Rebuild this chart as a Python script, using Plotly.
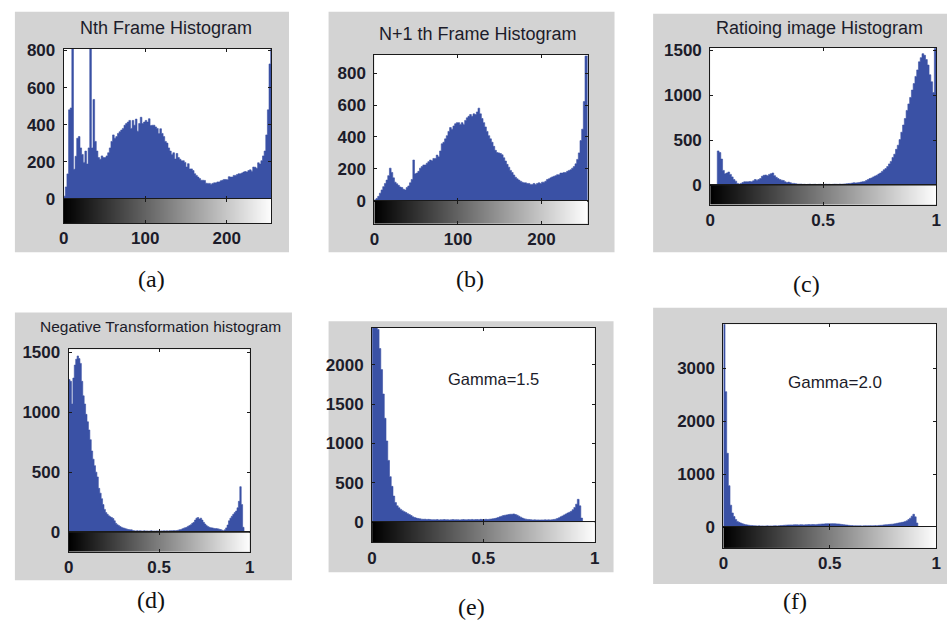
import plotly.graph_objects as go

# ---------------- data ----------------
# (a) Nth frame histogram, 128 bins over 0..256
hist_a = [15, 65, 135, 480, 490, 830, 160, 230, 327, 336,
          275, 240, 197, 258, 188, 275, 830, 275, 536, 310,
          258, 223, 214, 232, 223, 223, 232, 249, 275, 310,
          345, 327, 336, 353, 362, 371, 380, 397, 406, 414,
          423, 380, 423, 397, 430, 365, 406, 440, 406, 414,
          423, 414, 432, 395, 397, 397, 388, 380, 352, 378,
          353, 336, 310, 301, 275, 258, 240, 249, 215, 245,
          223, 214, 206, 206, 197, 172, 190, 162, 162, 153,
          136, 127, 118, 110, 101, 101, 100, 85, 84, 84,
          80, 84, 87, 87, 92, 92, 98, 101, 105, 105,
          104, 120, 118, 118, 127, 127, 132, 136, 136, 140,
          145, 148, 145, 153, 157, 150, 172, 171, 165, 195,
          188, 206, 232, 258, 345, 480, 727, 830]

# (b) N+1 th frame histogram, 128 bins over 0..256
hist_b = [6, 14, 27, 47, 67, 88, 108, 129, 157, 204,
          177, 143, 116, 106, 96, 86, 82, 71, 67, 82,
          92, 112, 133, 255, 169, 173, 184, 204, 214, 224,
          224, 235, 245, 255, 251, 265, 265, 286, 275, 312,
          357, 367, 388, 408, 435, 459, 449, 469, 483, 490,
          490, 479, 490, 479, 504, 520, 530, 541, 530, 545,
          541, 557, 581, 545, 516, 490, 463, 435, 408, 388,
          367, 341, 316, 302, 300, 296, 288, 269, 249, 228,
          210, 190, 177, 161, 147, 137, 129, 122, 116, 112,
          112, 108, 108, 102, 102, 108, 102, 108, 112, 108,
          116, 116, 122, 133, 137, 143, 149, 153, 157, 163,
          163, 173, 173, 177, 177, 184, 190, 194, 204, 214,
          231, 259, 300, 377, 449, 622, 908, 908]

# (c) Ratioing image histogram, 128 bins over 0..1
hist_c = [0, 0, 0, 0, 382, 364, 292, 166, 130, 137,
          148, 122, 94, 65, 47, 22, 14, 22, 32, 40,
          40, 40, 43, 40, 50, 65, 58, 65, 76, 101,
          112, 115, 108, 122, 130, 137, 108, 90, 76, 65,
          58, 54, 40, 32, 36, 29, 22, 22, 18, 14,
          14, 14, 11, 12, 9, 11, 13, 10, 11, 12,
          9, 11, 12, 10, 11, 13, 11, 12, 10, 11,
          13, 12, 11, 14, 12, 14, 16, 18, 20, 22,
          25, 29, 27, 29, 32, 36, 40, 43, 54, 65,
          76, 83, 94, 104, 112, 126, 137, 155, 173, 187,
          209, 238, 266, 310, 346, 400, 446, 508, 590, 670,
          742, 832, 904, 976, 1058, 1130, 1210, 1282, 1372, 1418,
          1462, 1444, 1397, 1336, 1228, 1150, 1030, 1520]

# (d) Negative transformation histogram, 128 bins over 0..1
hist_d = [1272, 1258, 1069, 1285, 1393, 1442, 1469, 1447, 1407, 1258,
          1137, 1069, 983, 921, 853, 772, 678, 610, 556, 502,
          462, 367, 327, 281, 232, 192, 165, 151, 138, 130,
          124, 116, 97, 76, 65, 57, 49, 43, 38, 35,
          30, 27, 24, 22, 22, 16, 14, 13, 15, 12,
          14, 13, 11, 14, 12, 13, 11, 12, 14, 11,
          12, 11, 13, 12, 11, 13, 12, 14, 13, 14,
          13, 14, 15, 14, 16, 15, 16, 19, 22, 24,
          30, 35, 40, 43, 51, 57, 65, 76, 84, 103,
          119, 124, 111, 119, 103, 84, 70, 57, 49, 43,
          40, 38, 35, 32, 32, 30, 27, 24, 19, 14,
          22, 38, 62, 97, 119, 135, 151, 165, 178, 205,
          259, 381, 232, 43, 0, 0, 0, 0]

# (e) Gamma = 1.5 histogram, 128 bins over 0..1
hist_e = [2600, 2550, 2500, 2450, 2207, 1939, 1629, 1320, 1031, 784,
          577, 454, 330, 247, 206, 181, 161, 144, 132, 120,
          107, 95, 82, 66, 58, 50, 45, 41, 37, 35,
          36, 33, 34, 31, 29, 30, 28, 31, 27, 30,
          29, 32, 28, 30, 27, 29, 31, 28, 30, 29,
          27, 30, 32, 29, 28, 31, 30, 33, 29, 31,
          32, 30, 34, 31, 33, 35, 32, 36, 38, 41,
          45, 50, 58, 66, 74, 82, 87, 91, 95, 99,
          99, 103, 95, 87, 74, 62, 50, 41, 37, 33,
          31, 29, 27, 28, 26, 27, 25, 27, 26, 28,
          27, 28, 27, 29, 33, 37, 45, 54, 66, 78,
          91, 103, 115, 124, 136, 157, 186, 227, 289, 206,
          50, 0, 0, 0, 0, 0, 0, 0]

# (f) Gamma = 2.0 histogram, 128 bins over 0..1
hist_f = [3900, 2560, 1394, 780, 411, 264, 196, 141, 104, 86,
          74, 61, 49, 43, 37, 31, 28, 25, 22, 20,
          18, 21, 17, 19, 16, 18, 20, 17, 19, 18,
          20, 22, 19, 23, 25, 27, 30, 33, 35, 37,
          38, 36, 39, 41, 40, 38, 42, 40, 37, 41,
          43, 45, 42, 46, 44, 43, 47, 50, 52, 55,
          55, 58, 60, 61, 59, 62, 61, 58, 56, 55,
          50, 46, 43, 38, 34, 30, 27, 25, 22, 23,
          21, 20, 22, 19, 21, 23, 20, 22, 24, 21,
          23, 25, 24, 28, 30, 31, 37, 40, 43, 46,
          49, 52, 55, 62, 68, 74, 80, 86, 92, 104,
          117, 141, 166, 203, 239, 190, 74, 0, 0, 0,
          0, 0, 0, 0, 0, 0, 0, 0]

titles = ["Nth Frame Histogram", "N+1 th Frame Histogram", "Ratioing image Histogram",
          "Negative Transformation histogram", "Gamma=1.5", "Gamma=2.0"]
captions = ["(a)", "(b)", "(c)", "(d)", "(e)", "(f)"]

xticks_gray = [0, 100, 200]
xticks_gray_text = ["0", "100", "200"]
xticks_unit = [0, 0.5, 1]
xticks_unit_text = ["0", "0.5", "1"]

yticks_a = [0, 200, 400, 600, 800]
yticks_b = [0, 200, 400, 600, 800]
yticks_c = [0, 500, 1000, 1500]
yticks_d = [0, 500, 1000, 1500]
yticks_e = [0, 500, 1000, 1500, 2000]
yticks_f = [0, 1000, 2000, 3000]

# ---------------- layout geometry (pixels) ----------------
W, H = 952, 631
BLUE = "#3a51a5"
GREY = "#d3d3d3"
LINE = "#1a1a1a"
TXT = "#1c1c2a"
TICKFONT = dict(family="Liberation Sans, Arial, sans-serif", size=17, color=TXT, weight="bold")


def px_x(a, b):
    return [a / W, b / W]


def px_y(top, bottom):
    return [1 - bottom / H, 1 - top / H]


panels = [
    dict(vals=hist_a, span=256, xr=255, ymax=810, yt=yticks_a, xt=xticks_gray, xtt=xticks_gray_text,
         box=(10, 5, 287, 252), plot=(59.3, 42.7, 269.3, 197.3), cb=222.0,
         title=(163, 22, 18), cap=(148, 280)),
    dict(vals=hist_b, span=256, xr=255, ymax=915, yt=yticks_b, xt=xticks_gray, xtt=xticks_gray_text,
         box=(327, 5, 616, 252), plot=(373.3, 49.3, 588.7, 199.0), cb=222.7,
         title=(478, 28, 18), cap=(470, 280)),
    dict(vals=hist_c, span=1.0, xr=1.0, ymax=1530, yt=yticks_c, xt=xticks_unit, xtt=xticks_unit_text,
         box=(655, 7, 952, 252), plot=(712.7, 41.7, 941.0, 183.3), cb=203.3,
         title=(823, 22, 18), cap=(810, 285)),
    dict(vals=hist_d, span=1.0, xr=1.0, ymax=1525, yt=yticks_d, xt=xticks_unit, xtt=xticks_unit_text,
         box=(10, 314, 290, 589), plot=(64.3, 351.7, 247.3, 540.0), cb=560.0,
         title=(157, 328, 15.5), cap=(148, 609)),
    dict(vals=hist_e, span=1.0, xr=1.0, ymax=2467, yt=yticks_e, xt=xticks_unit, xtt=xticks_unit_text,
         box=(327, 323, 615, 581), plot=(371.0, 330.0, 596.0, 529.3), cb=550.0,
         title=(494, 382, 16.5), cap=(471, 617)),
    dict(vals=hist_f, span=1.0, xr=1.0, ymax=3837, yt=yticks_f, xt=xticks_unit, xtt=xticks_unit_text,
         box=(655, 309, 952, 593), plot=(726.0, 326.0, 941.0, 534.3), cb=556.0,
         title=(839, 386, 17), cap=(798, 610)),
]

fig = go.Figure()
layout = dict(width=W, height=H, margin=dict(l=0, r=0, t=0, b=0),
              paper_bgcolor="white", plot_bgcolor="rgba(0,0,0,0)",
              showlegend=False, shapes=[], annotations=[])


def axkey(kind, n):
    return kind + ("" if n == 1 else str(n))


def ref(kind, n):
    return kind + ("" if n == 1 else str(n))


for k, p in enumerate(panels):
    nh = 2 * k + 1
    nc = 2 * k + 2
    x0, y0, x1, y1 = p["plot"]
    bx0, by0, bx1, by1 = p["box"]

    # grey figure background and white axes background
    layout["shapes"].append(dict(type="rect", xref="paper", yref="paper", layer="below",
                                 x0=bx0 / W, x1=bx1 / W, y0=1 - by1 / H, y1=1 - by0 / H,
                                 fillcolor=GREY, line=dict(width=0)))
    layout["shapes"].append(dict(type="rect", xref="paper", yref="paper", layer="below",
                                 x0=x0 / W, x1=x1 / W, y0=1 - y1 / H, y1=1 - y0 / H,
                                 fillcolor="white", line=dict(width=0)))

    # histogram drawn as a filled step outline (bin edges -> counts)
    vals = p["vals"]
    n = len(vals)
    w = p["span"] / n
    edges = [i * w for i in range(n + 1)]
    steps = list(vals) + [vals[-1]]
    fig.add_trace(go.Scatter(x=edges, y=steps, mode="lines", line=dict(shape="hv", color=BLUE, width=0.6),
                             fill="tozeroy", fillcolor=BLUE,
                             xaxis=ref("x", nh), yaxis=ref("y", nh), hoverinfo="skip"))

    fig.add_trace(go.Heatmap(z=[[0, 1]], x=[0, p["xr"]], y=[0], zsmooth="best",
                             colorscale=[[0, "black"], [1, "white"]], showscale=False,
                             xaxis=ref("x", nc), yaxis=ref("y", nc), hoverinfo="skip"))

    layout[axkey("xaxis", nh)] = dict(domain=px_x(x0, x1), range=[0, p["xr"]], anchor=ref("y", nh),
                                      tickvals=p["xt"], showticklabels=False, ticks="inside", ticklen=3,
                                      tickcolor=LINE, showline=True, mirror="ticks", linecolor=LINE,
                                      linewidth=1, showgrid=False, zeroline=False, fixedrange=True)
    layout[axkey("yaxis", nh)] = dict(domain=px_y(y0, y1), range=[0, p["ymax"]], anchor=ref("x", nh),
                                      tickvals=p["yt"], ticks="inside", ticklen=3, tickcolor=LINE,
                                      showline=True, mirror="ticks", linecolor=LINE, linewidth=1,
                                      tickfont=TICKFONT, showgrid=False, zeroline=False,
                                      ticklabelstandoff=4, fixedrange=True)
    layout[axkey("xaxis", nc)] = dict(domain=px_x(x0, x1), range=[0, p["xr"]], anchor=ref("y", nc),
                                      tickvals=p["xt"], ticktext=p["xtt"], ticks="inside", ticklen=3,
                                      tickcolor=LINE, showline=True, mirror="ticks", linecolor=LINE,
                                      linewidth=1, tickfont=TICKFONT, showgrid=False, zeroline=False,
                                      fixedrange=True)
    layout[axkey("yaxis", nc)] = dict(domain=px_y(y1, p["cb"]), range=[-0.5, 0.5], anchor=ref("x", nc),
                                      showticklabels=False, ticks="", showline=True, mirror=True,
                                      linecolor=LINE, linewidth=1, showgrid=False, zeroline=False,
                                      fixedrange=True)

    tx, ty, ts = p["title"]
    layout["annotations"].append(dict(text=titles[k], xref="paper", yref="paper",
                                      x=tx / W, y=1 - ty / H, xanchor="center", yanchor="middle",
                                      showarrow=False,
                                      font=dict(family="Liberation Sans, Arial, sans-serif",
                                                size=ts, color=TXT)))
    cx, cy = p["cap"]
    layout["annotations"].append(dict(text=captions[k], xref="paper", yref="paper",
                                      x=cx / W, y=1 - cy / H, xanchor="center", yanchor="middle",
                                      showarrow=False,
                                      font=dict(family="Liberation Serif, Times New Roman, serif",
                                                size=24, color="#111111")))

fig.update_layout(**layout)
fig.write_html("out.html")
